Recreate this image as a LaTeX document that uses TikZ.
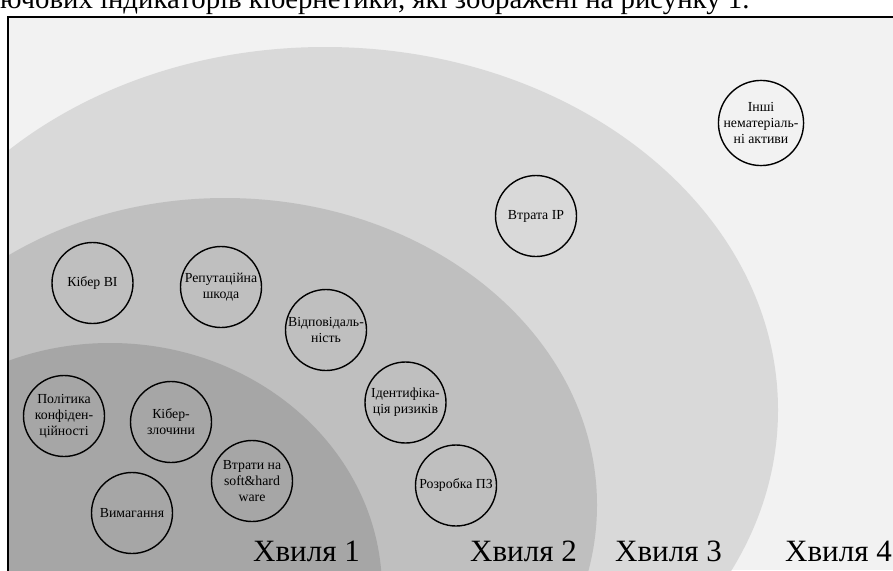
\documentclass[tikz,border=0pt]{standalone}
\usepackage{fontspec}
\setmainfont{Liberation Serif}
\definecolor{bgf}{HTML}{F2F2F2}
\definecolor{wthree}{HTML}{D9D9D9}
\definecolor{wtwo}{HTML}{BFBFBF}
\definecolor{wone}{HTML}{A6A6A6}
\begin{document}
\begin{tikzpicture}[x=1pt,y=-1pt,
  circ/.style={circle,draw=black,line width=1.4pt,minimum size=81pt,inner sep=0pt,align=center,
    font=\fontsize{13.8}{16}\selectfont},
  wave/.style={anchor=base west,inner sep=0pt,font=\fontsize{31}{34}\selectfont},
  frameline/.style={line width=1.6pt,draw=black}]
\useasboundingbox (0,0) rectangle (893,570);
\fill[white] (0,0) rectangle (893,570);
\begin{scope}
\clip (9,18) rectangle (893,570);
\fill[bgf] (9,18) rectangle (893,570);
\fill[wthree] (325,410) ellipse [x radius=453, y radius=363];
\fill[wtwo] (225,505) ellipse [x radius=372, y radius=307];
\fill[wone] (110,590) ellipse [x radius=272, y radius=247];
\end{scope}
\coordinate (fbl) at (8,600);
\coordinate (ftl) at (8,17);
\coordinate (ftr) at (905,17);
\draw[frameline] (fbl) -- (ftl) -- (ftr);
\node[anchor=base west,inner sep=0pt,font=\fontsize{28.8}{30}\selectfont] (intro) at (0,9)
  {ючових індикаторів кібернетики, які зображені на рисунку 1.};
% wave labels
\node[wave] (h1) at (253,561) {Хвиля 1};
\node[wave] (h2) at (470,561) {Хвиля 2};
\node[wave] (h3) at (615,561) {Хвиля 3};
\node[wave] (h4) at (785,561) {Хвиля 4};
% circles
\node[circ] (kbi) at (92.5,283) {Кібер ВІ};
\node[circ] (rep) at (221,287) {Репутаційна\\шкода};
\node[circ] (vid) at (326,330) {Відповідаль-\\ність};
\node[circ] (ident) at (405.5,402.5) {Ідентифіка-\\ція ризиків};
\node[circ] (rozr) at (456,485.5) {Розробка ПЗ};
\node[circ] (pol) at (64,416) {Політика\\конфіден-\\ційності};
\node[circ] (kzl) at (171,422) {Кібер-\\злочини};
\node[circ] (vtr) at (252,481) {Втрати на\\soft\&hard\\ware};
\node[circ] (vym) at (132,513) {Вимагання};
\node[circ] (ip) at (536,216) {Втрата IP};
\node[circ] (inshi) at (761,123) {Інші\\нематеріаль-\\ні активи};
\end{tikzpicture}
\end{document}
